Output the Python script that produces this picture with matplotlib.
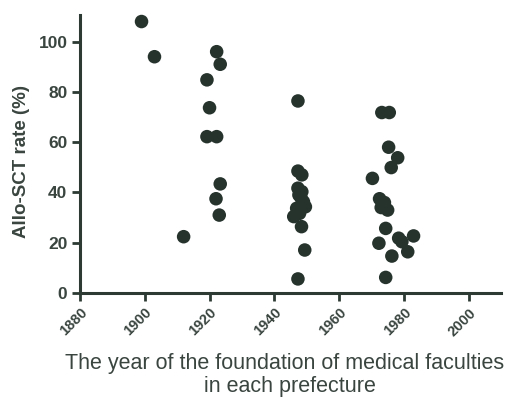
import matplotlib
matplotlib.use("Agg")
import matplotlib.pyplot as plt

# Data (year of foundation, allo-SCT rate %)
years_a = [1899, 1903, 1912, 1919.2, 1920, 1919.2, 1922.2, 1922.2, 1923.3, 1923.3, 1922, 1923]
rates_a = [108, 94, 22.4, 84.8, 73.7, 62.2, 62.2, 96, 91, 43.4, 37.5, 31]

years_b = [1947.3, 1947.3, 1948.5, 1947.3, 1948.5, 1947.6, 1949, 1949.6, 1946.9, 1947.8, 1946, 1948.4, 1949.4, 1947.3, 1948.2]
rates_b = [76.4, 48.5, 47, 41.7, 40.3, 39, 36.3, 34.3, 33.7, 31.7, 30.4, 26.4, 17.1, 5.6, 38]

years_c = [1973.2, 1975.5, 1975.3, 1978.1, 1976.1, 1970.3, 1972.5, 1974, 1973, 1975, 1974.4, 1978.4, 1983, 1972.3, 1979.4, 1981.2, 1976.3, 1974.4, 1973.8]
rates_c = [71.8, 71.8, 58, 53.8, 49.9, 45.6, 37.5, 36, 34, 33, 25.7, 21.8, 22.7, 19.8, 20.4, 16.4, 14.7, 6.2, 35]

years = years_a + years_b + years_c
rates = rates_a + rates_b + rates_c

xticks = [1880, 1900, 1920, 1940, 1960, 1980, 2000]
yticks = [0, 20, 40, 60, 80, 100]

xlabel_lines = ['The year of the foundation of medical faculties', 'in each prefecture']
ylabel = 'Allo-SCT rate (%)'

plt.rcParams['font.family'] = ['Liberation Sans', 'DejaVu Sans']
ink = '#2c3a33'
txt = '#3a4540'

W, H = 516, 397
fig = plt.figure(figsize=(W/100, H/100), dpi=100)
ax = fig.add_axes([80/W, 1-293/H, (501-80)/W, (293-15)/H])
ax.scatter(years, rates, s=95, color='#26332d', edgecolors='none', clip_on=False, zorder=3)

ax.set_xlim(1880, 2010)
ax.set_ylim(0, 110.6)
ax.set_xticks(xticks)
ax.set_yticks(yticks)
ax.set_xticklabels([str(t) for t in xticks], rotation=45, ha='right', rotation_mode='anchor',
                   fontsize=10.5, fontweight='bold', color=txt)
ax.set_yticklabels([str(t) for t in yticks], fontsize=12.5, fontweight='bold', color=txt)

for s in ['top', 'right']:
    ax.spines[s].set_visible(False)
for s in ['left', 'bottom']:
    ax.spines[s].set_linewidth(2.2)
    ax.spines[s].set_color(ink)
ax.tick_params(direction='out', length=6, width=2, color=ink, pad=3)

fig.text(22/W, 1-161/H, ylabel, rotation=90, ha='center', va='center',
         fontsize=13.5, fontweight='bold', color=txt)
fig.text(285/W, 1-369/H, xlabel_lines[0], ha='center', va='baseline', fontsize=15.5, color=txt)
fig.text(290/W, 1-392/H, xlabel_lines[1], ha='center', va='baseline', fontsize=15.5, color=txt)

fig.savefig('out.png', dpi=100)
